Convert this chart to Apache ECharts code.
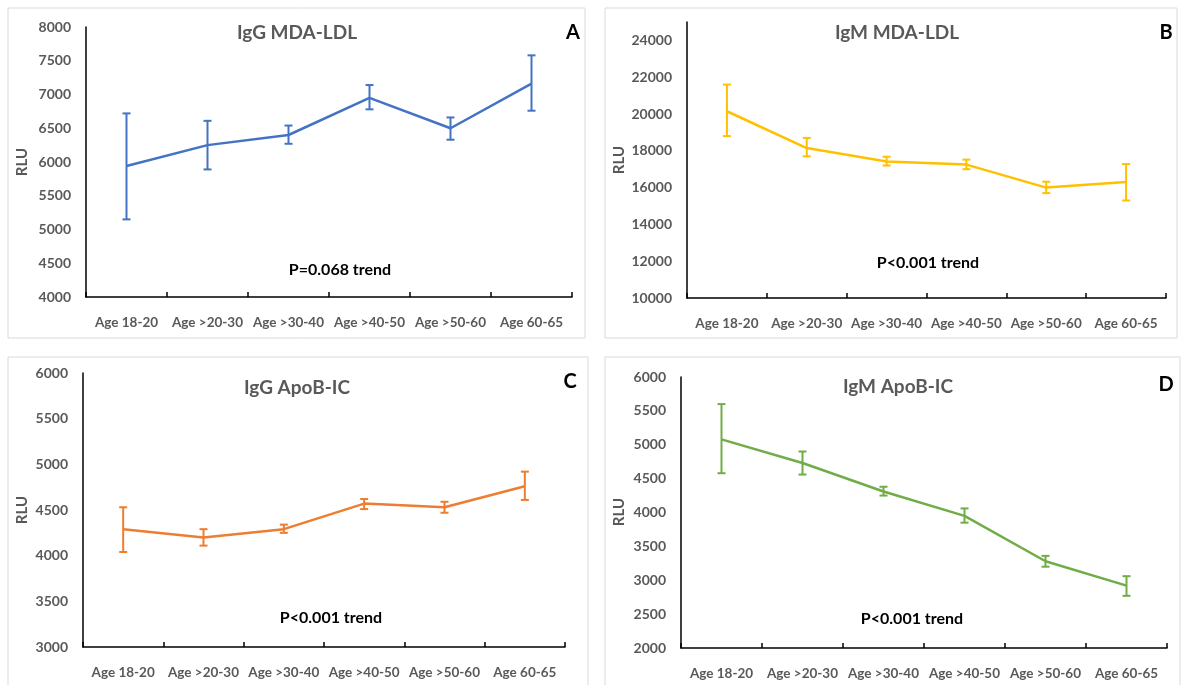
<!DOCTYPE html>
<html>
<head>
<meta charset="utf-8">
<script src="https://cdn.jsdelivr.net/npm/echarts@6/dist/echarts.min.js"></script>
<style>
  html, body { margin: 0; padding: 0; background: #fff; }
  #chart { width: 1185px; height: 685px; }
</style>
</head>
<body>
<div id="chart"></div>
<script>
var ageGroups = ['Age 18-20', 'Age >20-30', 'Age >30-40', 'Age >40-50', 'Age >50-60', 'Age 60-65'];

// IgG MDA-LDL (A)
var iggMdaMean = [5940, 6250, 6400, 6950, 6500, 7160];
var iggMdaLow  = [5150, 5890, 6270, 6780, 6330, 6760];
var iggMdaHigh = [6720, 6610, 6540, 7140, 6660, 7580];

// IgM MDA-LDL (B)
var igmMdaMean = [20150, 18150, 17420, 17250, 16000, 16300];
var igmMdaLow  = [18800, 17700, 17200, 17000, 15700, 15300];
var igmMdaHigh = [21600, 18700, 17680, 17520, 16320, 17280];

// IgG ApoB-IC (C)
var iggApoMean = [4290, 4200, 4290, 4570, 4530, 4760];
var iggApoLow  = [4040, 4110, 4250, 4510, 4470, 4610];
var iggApoHigh = [4530, 4290, 4340, 4620, 4590, 4920];

// IgM ApoB-IC (D)
var igmApoMean = [5080, 4730, 4310, 3950, 3280, 2920];
var igmApoLow  = [4580, 4560, 4250, 3850, 3200, 2770];
var igmApoHigh = [5600, 4900, 4380, 4060, 3360, 3060];

var panels = [
  {title: 'IgG MDA-LDL', letter: 'A', pText: 'P=0.068 trend', color: '#4472C4',
   mean: iggMdaMean, low: iggMdaLow, high: iggMdaHigh, min: 4000, max: 8000, step: 500,
   grid: {left: 86, top: 27, width: 486, height: 270},
   box: [8, 8, 577, 330], titleXY: [297, 33], letterXY: [573, 33], pXY: [340, 270], rluXY: [22, 162]},
  {title: 'IgM MDA-LDL', letter: 'B', pText: 'P<0.001 trend', color: '#FFC000',
   mean: igmMdaMean, low: igmMdaLow, high: igmMdaHigh, min: 10000, max: 25000, step: 2000,
   grid: {left: 687, top: 22, width: 479, height: 276},
   box: [605, 8, 572, 330], titleXY: [897, 33], letterXY: [1166, 33], pXY: [928, 263], rluXY: [619, 160]},
  {title: 'IgG ApoB-IC', letter: 'C', pText: 'P<0.001 trend', color: '#ED7D31',
   mean: iggApoMean, low: iggApoLow, high: iggApoHigh, min: 3000, max: 6000, step: 500,
   grid: {left: 83, top: 373, width: 482, height: 274},
   box: [8, 357, 580, 340], titleXY: [297, 388], letterXY: [570, 382], pXY: [331, 618], rluXY: [22, 510]},
  {title: 'IgM ApoB-IC', letter: 'D', pText: 'P<0.001 trend', color: '#70AD47',
   mean: igmApoMean, low: igmApoLow, high: igmApoHigh, min: 2000, max: 6000, step: 500,
   grid: {left: 681, top: 377, width: 486, height: 271},
   box: [605, 357, 575, 340], titleXY: [898, 387], letterXY: [1166, 385], pXY: [912, 619], rluXY: [619, 512]}
];

var font = 'Lato, "Open Sans", sans-serif';
var grids = [], xAxes = [], yAxes = [], series = [], graphics = [];

panels.forEach(function (p, i) {
  grids.push(p.grid);
  xAxes.push({
    type: 'category', gridIndex: i, data: ageGroups, boundaryGap: true,
    axisLine: {lineStyle: {color: '#000', width: 1.5}},
    axisTick: {show: true, inside: true, length: 5, interval: 0, lineStyle: {color: '#000', width: 1.5}},
    axisLabel: {interval: 0, margin: 19, color: '#595959', fontSize: 13.5, fontWeight: 'bold', fontFamily: font}
  });
  yAxes.push({
    type: 'value', gridIndex: i, min: p.min, max: p.max, interval: p.step,
    splitLine: {show: false},
    axisLine: {show: true, lineStyle: {color: '#000', width: 1.5}},
    axisTick: {show: false},
    axisLabel: {margin: 15, color: '#595959', fontSize: 14, fontWeight: 'bold', fontFamily: font,
      formatter: function (v) { return (v - p.min) % p.step === 0 ? v : ''; }}
  });
  series.push({
    type: 'line', xAxisIndex: i, yAxisIndex: i, data: p.mean,
    symbol: 'none', lineStyle: {color: p.color, width: 2.5}, z: 3
  });
  var errData = p.low.map(function (v, k) { return [k, v, p.high[k]]; });
  series.push({
    type: 'custom', xAxisIndex: i, yAxisIndex: i, data: errData, z: 4,
    renderItem: function (params, api) {
      var lo = api.coord([api.value(0), api.value(1)]);
      var hi = api.coord([api.value(0), api.value(2)]);
      var cap = 4;
      var st = {stroke: p.color, lineWidth: 2};
      return {type: 'group', children: [
        {type: 'line', shape: {x1: lo[0], y1: lo[1], x2: hi[0], y2: hi[1]}, style: st},
        {type: 'line', shape: {x1: lo[0] - cap, y1: lo[1], x2: lo[0] + cap, y2: lo[1]}, style: st},
        {type: 'line', shape: {x1: hi[0] - cap, y1: hi[1], x2: hi[0] + cap, y2: hi[1]}, style: st}
      ]};
    }
  });
  graphics.push({type: 'rect', shape: {x: p.box[0], y: p.box[1], width: p.box[2], height: p.box[3]},
    style: {fill: 'none', stroke: '#d9d9d9', lineWidth: 1}, z: 0});
  graphics.push({type: 'text', x: p.titleXY[0], y: p.titleXY[1],
    style: {text: p.title, fill: '#595959', font: 'bold 19px ' + font, textAlign: 'center', textVerticalAlign: 'middle'}});
  graphics.push({type: 'text', x: p.letterXY[0], y: p.letterXY[1],
    style: {text: p.letter, fill: '#000', font: 'bold 20px ' + font, textAlign: 'center', textVerticalAlign: 'middle'}});
  graphics.push({type: 'text', x: p.pXY[0], y: p.pXY[1],
    style: {text: p.pText, fill: '#000', font: 'bold 16px ' + font, textAlign: 'center', textVerticalAlign: 'middle'}});
  graphics.push({type: 'text', x: p.rluXY[0], y: p.rluXY[1], rotation: Math.PI / 2,
    style: {text: 'RLU', fill: '#595959', font: 'bold 15px ' + font, textAlign: 'center', textVerticalAlign: 'middle'}});
});

var chart = echarts.init(document.getElementById('chart'));
chart.setOption({
  animation: false,
  grid: grids,
  xAxis: xAxes,
  yAxis: yAxes,
  series: series,
  graphic: graphics
});
</script>
</body>
</html>
